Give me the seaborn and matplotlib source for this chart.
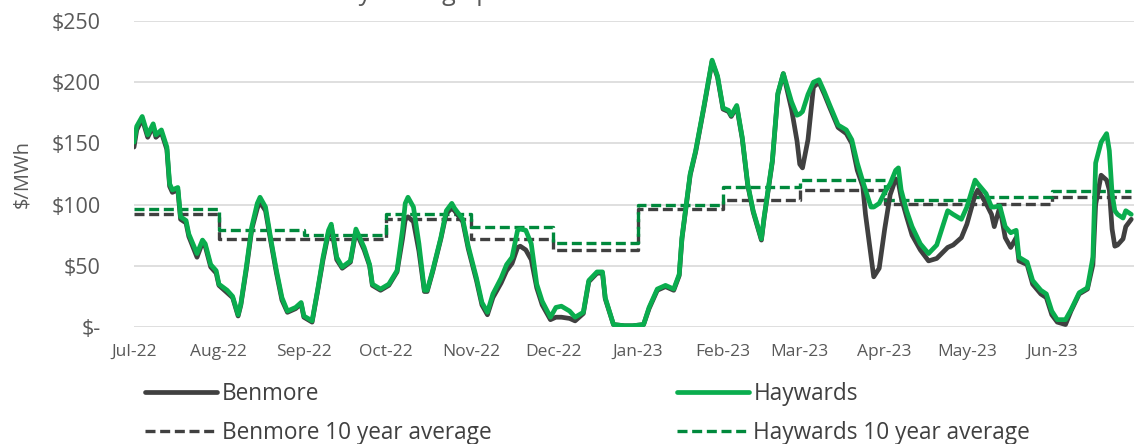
import pandas as pd
import matplotlib.pyplot as plt
import matplotlib.dates as mdates
import seaborn as sns

# ---- data ----
start_date = "2022-07-01"

# day offsets from 1 Jul 2022, grouped by month
days = [0, 1, 3, 5, 7, 8, 10, 12, 13, 14, 16, 17, 19, 20, 23, 25, 26, 28, 30,
        31, 34, 36, 38, 39, 41, 43, 45, 46, 48, 50, 52, 54, 56, 59, 61,
        62, 65, 67, 69, 71, 72, 74, 76, 79, 81, 84, 86, 87, 90,
        93, 96, 98, 99, 100, 102, 104, 106, 107, 109, 112, 114, 116, 117, 120, 122,
        125, 127, 129, 131, 134, 136, 138, 140, 141, 143, 145, 147, 149, 152,
        154, 156, 159, 161, 164, 166, 169, 171, 172, 175, 179, 182,
        186, 188, 191, 194, 197, 199, 200, 203, 205, 208, 211, 213,
        215, 217, 218, 220, 222, 224, 226, 229, 230, 233, 235, 237, 240, 242,
        243, 244, 246, 248, 250, 252, 254, 257, 260, 262, 264, 266, 267, 269, 270, 272,
        274, 276, 278, 279, 280, 282, 284, 287, 290, 293, 297, 299, 302,
        304, 307, 308, 311, 313, 314, 316, 318, 320, 322, 323, 326, 328, 331, 333,
        335, 337, 340, 342, 345, 348, 350, 351, 353, 355, 356, 357, 358, 359, 361, 362, 364]

haywards = [151, 164, 172, 157, 166, 157, 161, 147, 117, 112, 114, 90, 87, 76, 60, 71, 68, 51, 46,
            35, 30, 25, 10, 19, 49, 82, 101, 106, 98, 71, 46, 24, 13, 16, 20,
            9, 5, 30, 57, 79, 84, 57, 49, 54, 80, 65, 51, 35, 31,
            35, 46, 79, 101, 106, 98, 68, 30, 30, 46, 73, 95, 101, 97, 88, 66,
            40, 20, 12, 27, 40, 51, 57, 79, 80, 79, 68, 35, 21, 8,
            16, 17, 13, 8, 12, 38, 45, 45, 24, 2, 1, 1,
            2, 16, 31, 34, 31, 43, 73, 125, 144, 180, 218, 205,
            179, 177, 173, 181, 155, 117, 95, 72, 90, 136, 191, 207, 184, 173,
            174, 176, 190, 200, 202, 192, 181, 165, 161, 153, 134, 119, 112, 98, 98, 101,
            110, 117, 128, 130, 112, 95, 82, 68, 60, 67, 95, 92, 88,
            98, 120, 117, 109, 98, 98, 99, 82, 77, 79, 57, 53, 38, 30, 27,
            13, 6, 6, 14, 28, 32, 57, 134, 151, 158, 144, 109, 95, 92, 89, 95, 92]

benmore = [147, 161, 170, 155, 164, 155, 159, 145, 115, 110, 112, 88, 85, 74, 57, 69, 66, 49, 44,
           34, 28, 24, 9, 18, 47, 80, 97, 102, 95, 69, 44, 22, 12, 15, 19,
           8, 4, 29, 55, 77, 82, 55, 48, 53, 78, 63, 50, 34, 30,
           34, 45, 72, 88, 90, 86, 62, 29, 29, 45, 72, 93, 97, 95, 86, 64,
           38, 18, 10, 24, 36, 46, 52, 65, 66, 63, 55, 32, 18, 6,
           8, 8, 7, 5, 11, 37, 44, 44, 23, 2, 1, 1,
           2, 15, 30, 33, 30, 42, 72, 124, 143, 179, 217, 204,
           178, 176, 172, 180, 154, 116, 94, 71, 89, 135, 190, 207, 178, 152,
           133, 130, 153, 196, 200, 190, 179, 163, 158, 150, 128, 115, 92, 58, 41, 48,
           80, 108, 121, 118, 106, 90, 75, 63, 54, 56, 65, 67, 73,
           84, 108, 112, 101, 92, 82, 98, 73, 65, 73, 54, 51, 35, 27, 24,
           10, 4, 2, 13, 27, 31, 51, 100, 124, 120, 112, 80, 66, 67, 72, 82, 88]

# 10 year monthly averages
avg_months = ["2022-07-01", "2022-08-01", "2022-09-01", "2022-10-01", "2022-11-01", "2022-12-01",
              "2023-01-01", "2023-02-01", "2023-03-01", "2023-04-01", "2023-05-01", "2023-06-01"]
haywards_avg = [96, 79, 75.5, 92.5, 82, 68.5, 100, 114, 120, 104, 106.5, 111]
benmore_avg = [92, 72, 72, 88, 72, 63, 96, 104, 112, 100.5, 100.5, 106]

yticks = [0, 50, 100, 150, 200, 250]
ytick_labels = ["$-", "$50", "$100", "$150", "$200", "$250"]

# ---- prep ----
dates = pd.to_datetime(start_date) + pd.to_timedelta(days, unit="D")
step_x = pd.to_datetime(avg_months + ["2023-06-30"])
hay_step = haywards_avg + [haywards_avg[-1]]
ben_step = benmore_avg + [benmore_avg[-1]]

dark = "#404040"
green = "#0AAD4E"
green_dash = "#00893C"
text_col = "#595959"

sns.set_theme(style="white")
plt.rcParams["font.family"] = ["Open Sans", "DejaVu Sans"]

fig = plt.figure(figsize=(11.34, 4.44), dpi=100)
ax = fig.add_axes([134 / 1134, 1 - 327 / 444, 1000 / 1134, 306 / 444])

dash = (0, (3, 1.4))
sns.lineplot(x=step_x, y=ben_step, ax=ax, color=dark, lw=2.4, linestyle=dash,
             drawstyle="steps-post", label="Benmore 10 year average")
sns.lineplot(x=step_x, y=hay_step, ax=ax, color=green_dash, lw=2.4, linestyle=dash,
             drawstyle="steps-post", label="Haywards 10 year average")
sns.lineplot(x=dates, y=benmore, ax=ax, color=dark, lw=3.4, label="Benmore")
sns.lineplot(x=dates, y=haywards, ax=ax, color=green, lw=3.4, label="Haywards")

# axes styling
ax.set_ylim(0, 250)
ax.set_xlim(pd.Timestamp("2022-07-01"), pd.Timestamp("2023-07-01"))
ax.set_yticks(yticks)
ax.set_yticklabels(ytick_labels)
ax.set_xticks(pd.date_range("2022-07-01", "2023-06-01", freq="MS"))
ax.xaxis.set_major_formatter(mdates.DateFormatter("%b-%y"))
ax.yaxis.grid(True, color="#D9D9D9", lw=1.2)
ax.xaxis.grid(False)
ax.set_axisbelow(True)
for s in ax.spines.values():
    s.set_visible(False)
ax.tick_params(axis="y", labelsize=15.5, pad=24, colors=text_col, length=0)
ax.tick_params(axis="x", labelsize=12.5, pad=12, colors=text_col, length=0)
ax.set_xlabel("")
ax.set_ylabel("$/MWh", fontsize=14.5, color=text_col, labelpad=14)

# legend below the plot, Benmore entries in the left column
handles, labels = ax.get_legend_handles_labels()
order = [labels.index(n) for n in ["Benmore", "Benmore 10 year average",
                                   "Haywards", "Haywards 10 year average"]]
ax.get_legend().remove()
fig.legend([handles[i] for i in order], [labels[i] for i in order],
           loc="upper left", bbox_to_anchor=(145 / 1134, 1 - 382 / 444),
           ncol=2, frameon=False, fontsize=16.3, labelcolor=dark,
           handlelength=3.2, handletextpad=0.18, columnspacing=8.2,
           labelspacing=0.68, borderpad=0, borderaxespad=0)

# title, mostly cropped off the top edge like in the source
fig.text(288 / 1134, 1.0, "Weekly average prices", fontsize=18, color=text_col,
         ha="left", va="baseline")

fig.savefig("out.png", dpi=100)
